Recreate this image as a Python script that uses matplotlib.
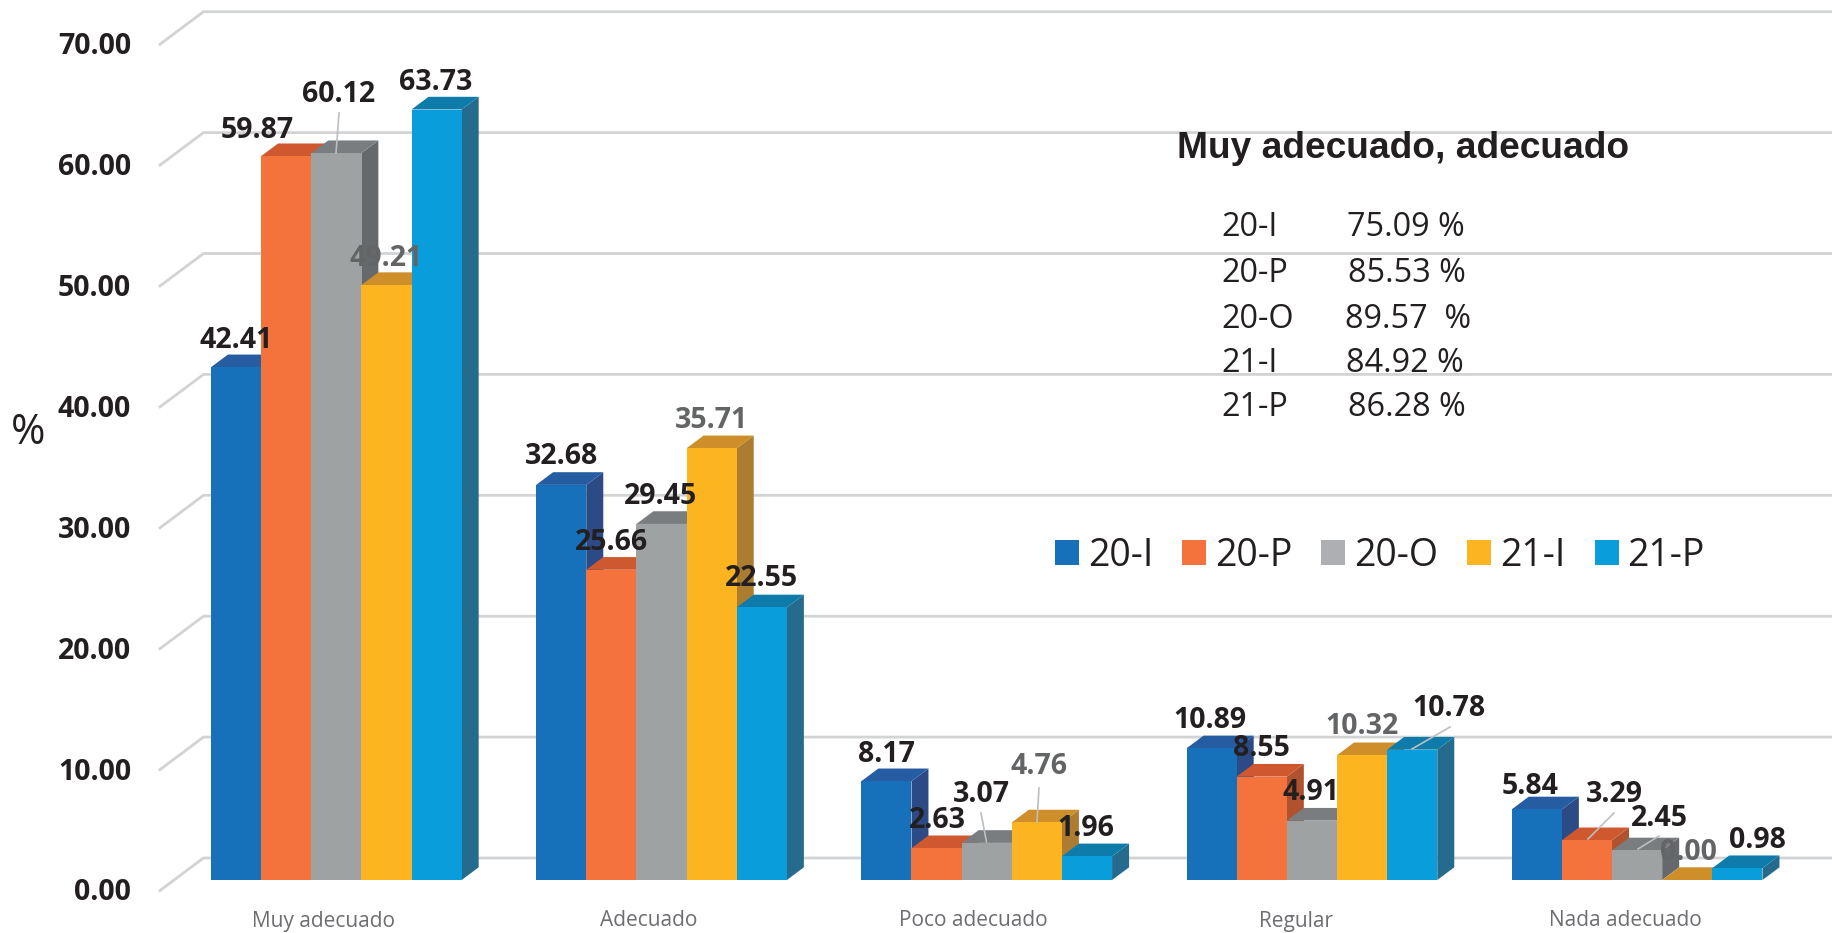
#encoding:utf-8
import matplotlib
matplotlib.use('Agg')
import matplotlib.pyplot as plt
from matplotlib.patches import Patch, Polygon
from matplotlib.transforms import Affine2D

categories = ['Muy adecuado', 'Adecuado', 'Poco adecuado', 'Regular', 'Nada adecuado']
series = ['20-I', '20-P', '20-O', '21-I', '21-P']
v_20I = [42.41, 32.68, 8.17, 10.89, 5.84]
v_20P = [59.87, 25.66, 2.63, 8.55, 3.29]
v_20O = [60.12, 29.45, 3.07, 4.91, 2.45]
v_21I = [49.21, 35.71, 4.76, 10.32, 0.00]
v_21P = [63.73, 22.55, 1.96, 10.78, 0.98]
yticks = [0, 10, 20, 30, 40, 50, 60, 70]
summary_names = ['20-I', '20-P', '20-O', '21-I', '21-P']
summary_values = ['75.09 %', '85.53 %', '89.57  %', '84.92 %', '86.28 %']

W, H = 1833, 933
front = ['#1670BA', '#F4733C', '#9FA2A3', '#FDB421', '#099DDC']
top = ['#265CA1', '#D0582E', '#7A7D80', '#CE8F2A', '#0D7CAB']
side = ['#2C4B86', '#B0522E', '#66696B', '#AC7D30', '#256B8E']
legend_colors = ['#1670BA', '#F4733C', '#ADAFB2', '#FDB421', '#099DDC']
GRID = '#D1D3D4'
DARK = '#231F20'
GREY = '#636466'

# pixel scale of the axes, bars stand on y=880
X0, XSTEP = 336.3, 325.2
Y0, YSTEP = 880.0, 12.09
BAR_W = 50.15 / XSTEP
DX, DY = 17 / XSTEP, 12.7 / YSTEP
TXT_DY = 3  # matplotlib centres text a little high

# label centres in pixels, one row for each series
label_pos = [
    [(236, 337), (561, 454), (886, 751), (1210, 717), (1530, 783)],
    [(257, 127), (611, 539), (937, 818), (1261, 746), (1614, 791)],
    [(339, 91), (661, 493), (981, 791), (1311, 789), (1659, 815)],
    [(386, 256), (711, 418), (1039, 764), (1362, 724), (1688, 850)],
    [(436, 79), (761, 576), (1086, 826), (1449, 705), (1757, 838)],
]
label_color = [DARK, DARK, DARK, GREY, DARK]
leaders = [
    [(339, 113), (336, 153)],
    [(981, 813), (986.5, 842)],
    [(1039, 788), (1037, 822)],
    [(1450, 727), (1412, 749)],
    [(1614, 813), (1588, 839)],
    [(1659, 836), (1638, 849)],
]
cat_label_x = [323.6, 648.4, 973.5, 1296, 1625]

plt.rcParams['font.family'] = ['Open Sans', 'DejaVu Sans']

fig = plt.figure(figsize=(W / 100, H / 100), dpi=100)
ax = fig.add_axes([0, 0, 1, 1])
ax.set_xlim((0 - X0) / XSTEP, (W - X0) / XSTEP)
ax.set_ylim((Y0 - H) / YSTEP, Y0 / YSTEP)
ax.axis('off')
px = Affine2D().scale(1, -1).translate(0, H)

# back wall lines and the slanted bit on the left
xl = (160 - X0) / XSTEP
xm = (203.5 - X0) / XSTEP
xr = (W - X0) / XSTEP
for t in yticks:
    yb = t + 22 / YSTEP
    yf = t - 10.5 / YSTEP
    ax.plot([xl, xm, xr], [yf, yb, yb], color=GRID, lw=2, zorder=1, solid_joinstyle='miter')
    ax.text(131, 890 - YSTEP * t + TXT_DY, '%.2f' % t, transform=px, ha='right', va='center',
            fontsize=20.5, fontweight='bold', color=DARK)

# bars, painted left to right so each one hides the side of the one before
values = [v_20I, v_20P, v_20O, v_21I, v_21P]
z = 2
for c in range(len(categories)):
    for s in range(len(series)):
        v = values[s][c]
        x = c + (s - 2.5) * BAR_W
        xe = x + BAR_W
        ax.add_patch(Polygon([(xe, 0), (xe + DX, DY), (xe + DX, v + DY), (xe, v)],
                             facecolor=side[s], edgecolor='none', zorder=z))
        ax.add_patch(Polygon([(x, v), (x + DX, v + DY), (xe + DX, v + DY), (xe, v)],
                             facecolor=top[s], edgecolor='none', zorder=z))
        ax.bar(x, v, width=BAR_W, align='edge', color=front[s], linewidth=0, zorder=z + 0.5)
        z += 1

for s in range(len(series)):
    for c in range(len(categories)):
        lx, ly = label_pos[s][c]
        ax.text(lx, ly + TXT_DY, '%.2f' % values[s][c], transform=px, ha='center', va='center',
                fontsize=20.5, fontweight='bold', color=label_color[s], zorder=100)

for a, b in leaders:
    ax.plot([a[0], b[0]], [a[1], b[1]], transform=px, color='#BCBEC0', lw=1.2, zorder=99)

for c, name in enumerate(categories):
    ax.text(cat_label_x[c], 919 + TXT_DY - 1, name, transform=px, ha='center', va='center',
            fontsize=15, color='#6D6E71')

ax.text(28, 430 + TXT_DY, '%', transform=px, ha='center', va='center', fontsize=30, color=DARK)

# box with the sums
ax.text(1177, 148, 'Muy adecuado, adecuado', transform=px, ha='left', va='center',
        fontsize=26.7, fontweight='bold', family=['Liberation Sans'], color=DARK, zorder=100)
rows_y = [225, 271, 316, 360, 404]
rows_x = [1347, 1348, 1345, 1346, 1348]
for i in range(len(summary_names)):
    ax.text(1221, rows_y[i] + TXT_DY, summary_names[i], transform=px, ha='left', va='center',
            fontsize=23.3, color=DARK, zorder=100)
    ax.text(rows_x[i], rows_y[i] + TXT_DY, summary_values[i], transform=px, ha='left', va='center',
            fontsize=23.3, color=DARK, zorder=100)

handles = [Patch(facecolor=legend_colors[i], label=series[i]) for i in range(len(series))]
leg = ax.legend(handles=handles, ncol=5, frameon=False, fontsize=27, labelcolor=DARK,
                loc='center left', bbox_to_anchor=(1055 / W, 1 - 556 / H),
                bbox_transform=fig.transFigure, borderaxespad=0, borderpad=0,
                handlelength=0.64, handleheight=0.64, handletextpad=0.24, columnspacing=0.77)
leg.set_zorder(100)

fig.savefig('out.png', dpi=100)
